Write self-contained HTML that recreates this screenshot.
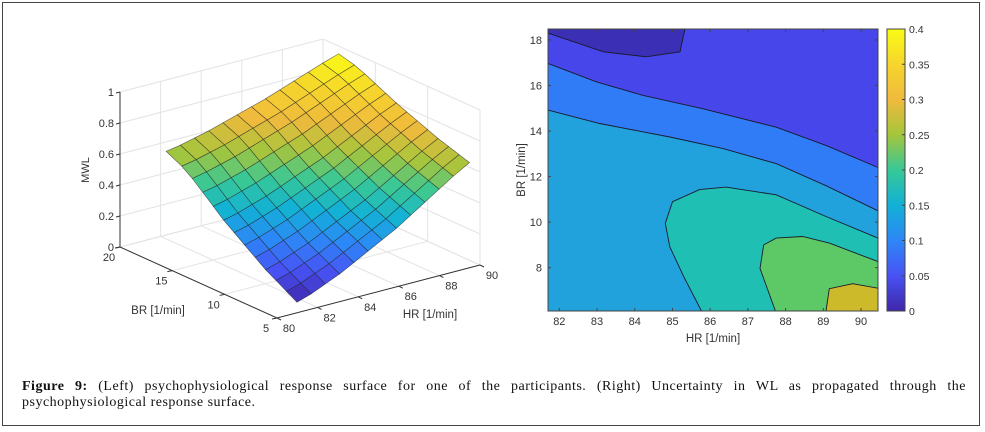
<!DOCTYPE html>
<html><head><meta charset="utf-8">
<style>
html,body{margin:0;padding:0;background:#fff;}
body{width:985px;height:432px;overflow:hidden;position:relative;font-family:"Liberation Sans",sans-serif;}
#frame{position:absolute;left:2px;top:2px;width:978px;height:424px;border:1px solid #444;box-sizing:border-box;}
#caption{position:absolute;left:22px;top:379px;width:944px;font-family:"Liberation Serif",serif;font-size:14px;letter-spacing:0.5px;line-height:16px;text-align:justify;color:#111;}
svg text{font-family:"Liberation Sans",sans-serif;fill:#333;}
</style></head>
<body>
<div id="frame"></div>
<svg id="chart" width="985" height="432" style="position:absolute;left:0;top:0">
  <g id="left"></g>
  <g id="right"></g>
</svg>
<div id="caption"><b>Figure 9:</b> (Left) psychophysiological response surface for one of the participants. (Right) Uncertainty in WL as propagated through the psychophysiological response surface.</div>
<script>
// ---------- Data: surface ----------
const surfHR = [81.5,82.2,82.9,83.6,84.3,85.0,85.7,86.4,87.1,87.8,88.5,89.2,90.0];
const surfBR = [6,7,8,9,10,11,12,13,14,15,16,17,18.5];
const hrEffect = [0.02,0.05,0.09,0.13,0.18,0.23,0.28,0.33,0.39,0.45,0.51,0.57,0.63];
const brEffect = [0,0.04,0.08,0.12,0.17,0.22,0.27,0.32,0.38,0.44,0.50,0.55,0.60];
const zTicks = [0,0.2,0.4,0.6,0.8,1];
const zTickLabels = ["0","0.2","0.4","0.6","0.8","1"];
const hrTicks = [80,82,84,86,88,90];
const brTicks = [5,10,15,20];
// ---------- Data: contour ----------
const cHRTicks = [82,83,84,85,86,87,88,89,90];
const cBRTicks = [8,10,12,14,16,18];
const cbTicks = [0,0.05,0.1,0.15,0.2,0.25,0.3,0.35,0.4];
const bandColors = ["#3b2fb6","#4646ea","#2f7cf6","#22a2dd","#1fbfb4","#5dc866","#cdba2b"];
const level0 = [[81.7,18.3],[83.17,17.48],[84.3,17.26],[85.2,17.48],[85.33,18.48],[81.7,18.48]];
const level1 = [[81.7,16.97],[82.98,16.16],[84.21,15.57],[85.8,14.98],[87.75,14.17],[89.07,13.37],[90.45,12.4]];
const level2 = [[81.7,14.92],[83.07,14.33],[84.93,13.74],[86.34,13.23],[87.75,12.57],[89.07,11.6],[90.45,10.5]];
const level3 = [[85.77,6.1],[85.3,7.6],[84.93,8.92],[84.81,9.95],[85.0,10.9],[85.72,11.43],[86.42,11.54],[87.75,11.2],[89.07,10.25],[90.45,9.3],[90.45,6.1]];
const level4 = [[87.73,6.1],[87.32,7.97],[87.42,9.0],[87.75,9.3],[88.45,9.37],[89.16,9.08],[90.45,8.27],[90.45,6.1]];
const level5 = [[89.07,6.1],[89.16,7.08],[89.78,7.3],[90.45,7.1],[90.45,6.1]];

const NS="http://www.w3.org/2000/svg";
function mk(tag,attrs,parent){const e=document.createElementNS(NS,tag);for(const k in attrs)e.setAttribute(k,attrs[k]);parent.appendChild(e);return e;}

const par=[[0,[62,38,168]],[0.125,[72,82,244]],[0.25,[45,135,247]],[0.375,[18,177,214]],[0.5,[55,200,151]],[0.625,[165,197,60]],[0.75,[240,186,61]],[0.875,[246,213,44]],[1,[249,251,21]]];
function parula(v){v=Math.max(0,Math.min(1,v));for(let i=1;i<par.length;i++){if(v<=par[i][0]){const a=par[i-1],b=par[i],t=(v-a[0])/(b[0]-a[0]);const c=a[1].map((x,j)=>Math.round(x+(b[1][j]-x)*t));return `rgb(${c[0]},${c[1]},${c[2]})`;}}return "rgb(249,251,21)";}

// ---------- Left 3D surface ----------
const L=document.getElementById('left');
function P(hr,br,z){return [277+(hr-80)/10*203+(br-5)/15*(-157), 318+(hr-80)/10*(-53)+(br-5)/15*(-71)+z*(-155)];}
function pts(a){return a.map(p=>p[0].toFixed(1)+","+p[1].toFixed(1)).join(" ");}
const gridG=mk('g',{},L);


zTicks.forEach(z=>{
  mk('polyline',{points:pts([P(80,20,z),P(90,20,z),P(90,5,z)]),fill:'none',stroke:'#e3e3e3','stroke-width':1},gridG);
});
hrTicks.forEach(h=>{
  mk('polyline',{points:pts([P(h,5,0),P(h,20,0),P(h,20,1)]),fill:'none',stroke:'#e3e3e3','stroke-width':1},gridG);
});
brTicks.forEach(b=>{
  mk('polyline',{points:pts([P(80,b,0),P(90,b,0),P(90,b,1)]),fill:'none',stroke:'#e3e3e3','stroke-width':1},gridG);
});
const ax=mk('g',{stroke:'#333','stroke-width':1,fill:'none'},L);


mk('polyline',{points:pts([P(80,20,1),P(80,20,0),P(80,5,0),P(90,5,0)])},ax);
function zval(i,j){const a=hrEffect[i],b=brEffect[j];return a+b-0.74*a*b;}
let zmin=1e9,zmax=-1e9;
for(let i=0;i<surfHR.length;i++)for(let j=0;j<surfBR.length;j++){const z=zval(i,j);zmin=Math.min(zmin,z);zmax=Math.max(zmax,z);}
const surf=mk('g',{stroke:'#222','stroke-width':0.6,'stroke-opacity':0.7},L);


const quads=[];
for(let i=0;i<surfHR.length-1;i++)for(let j=0;j<surfBR.length-1;j++){
  const c=[[i,j],[i+1,j],[i+1,j+1],[i,j+1]].map(([a,b])=>P(surfHR[a],surfBR[b],zval(a,b)));
  const zm=(zval(i,j)+zval(i+1,j)+zval(i+1,j+1)+zval(i,j+1))/4;
  const depth=(surfHR[i]-80)/10+(surfBR[j]-5)/15;
  quads.push({c,zm,depth});
}
quads.sort((a,b)=>b.depth-a.depth);
quads.forEach(q=>{
  const p=mk('polygon',{points:pts(q.c),fill:parula((q.zm-zmin)/(zmax-zmin))},surf);
  
  
});
const lab=mk('g',{'font-size':11},L);


zTicks.forEach((z,k)=>{const p=P(80,20,z);
  mk('line',{x1:p[0]-4,y1:p[1]+1,x2:p[0],y2:p[1],stroke:'#333'},lab);
  const t=mk('text',{x:p[0]-6,y:p[1]+4,'text-anchor':'end'},lab);t.textContent=zTickLabels[k];});
brTicks.forEach(b=>{const p=P(80,b,0);
  mk('line',{x1:p[0],y1:p[1],x2:p[0]-5,y2:p[1]+1,stroke:'#333'},lab);
  const t=mk('text',{x:p[0]-11,y:p[1]+14,'text-anchor':'middle'},lab);t.textContent=b;});
hrTicks.forEach(h=>{const p=P(h,5,0);
  mk('line',{x1:p[0],y1:p[1],x2:p[0]+4,y2:p[1]+2,stroke:'#333'},lab);
  const t=mk('text',{x:p[0]+12,y:p[1]+14,'text-anchor':'middle'},lab);t.textContent=h;});
const zl=mk('text',{x:0,y:0,'font-size':11,'text-anchor':'middle',transform:'translate(89,170) rotate(-90)'},L);zl.textContent='MWL';

const bl=mk('text',{x:158,y:314,'font-size':11.5,'text-anchor':'middle'},L);bl.textContent='BR [1/min]';

const hl=mk('text',{x:430,y:318,'font-size':11.5,'text-anchor':'middle'},L);hl.textContent='HR [1/min]';


// ---------- Right contour ----------
const R=document.getElementById('right');
const X0=548,X1=878,Y0=29,Y1=311,HRMIN=81.7,HRMAX=90.45,BRMIN=6.1,BRMAX=18.48;
function sx(h){return X0+(h-HRMIN)/(HRMAX-HRMIN)*(X1-X0);}
function sy(b){return Y1-(b-BRMIN)/(BRMAX-BRMIN)*(Y1-Y0);}
function cp(a){return a.map(p=>sx(p[0]).toFixed(1)+","+sy(p[1]).toFixed(1)).join(" ");}
const cg=mk('g',{},R);


mk('rect',{x:X0,y:Y0,width:X1-X0,height:Y1-Y0,fill:bandColors[1]},cg);
const regions=[
 {d:level0,col:bandColors[0],n:'band-0-0.05'},
 {d:level1.concat([[HRMAX,BRMIN],[HRMIN,BRMIN]]),col:bandColors[2],n:'band-0.1-0.15'},
 {d:level2.concat([[HRMAX,BRMIN],[HRMIN,BRMIN]]),col:bandColors[3],n:'band-0.15-0.2'},
 {d:level3,col:bandColors[4],n:'band-0.2-0.25'},
 {d:level4,col:bandColors[5],n:'band-0.25-0.3'},
 {d:level5,col:bandColors[6],n:'band-0.3-0.35'}];
regions.forEach(r=>{
  const p=mk('polygon',{points:cp(r.d),fill:r.col},cg);
  
  
});
const lines=[level0.slice(0,5),level1,level2,level3,level4,level5];
lines.forEach(l=>{
  const p=mk('polyline',{points:cp(l),fill:'none',stroke:'#1a1a2a','stroke-width':0.9},cg);
  
  
});
const frame=mk('rect',{x:X0,y:Y0,width:X1-X0,height:Y1-Y0,fill:'none',stroke:'#444','stroke-width':1},R);

const ct=mk('g',{'font-size':11},R);


cHRTicks.forEach(h=>{const x=sx(h);
  mk('line',{x1:x,y1:Y1,x2:x,y2:Y1-3,stroke:'#444'},ct);mk('line',{x1:x,y1:Y0,x2:x,y2:Y0+3,stroke:'#444'},ct);
  const t=mk('text',{x:x,y:Y1+14,'text-anchor':'middle'},ct);t.textContent=h;});
cBRTicks.forEach(b=>{const y=sy(b);
  mk('line',{x1:X0,y1:y,x2:X0+3,y2:y,stroke:'#444'},ct);mk('line',{x1:X1,y1:y,x2:X1-3,y2:y,stroke:'#444'},ct);
  const t=mk('text',{x:X0-6,y:y+4,'text-anchor':'end'},ct);t.textContent=b;});
const cx=mk('text',{x:713,y:342,'font-size':11.5,'text-anchor':'middle'},R);cx.textContent='HR [1/min]';

const cy=mk('text',{x:0,y:0,'font-size':11.5,'text-anchor':'middle',transform:'translate(525,170) rotate(-90)'},R);cy.textContent='BR [1/min]';

const CB0=887,CB1=905;
const defs=mk('defs',{},R);
const grad=mk('linearGradient',{id:'pg',x1:0,y1:1,x2:0,y2:0},defs);
par.forEach(s=>mk('stop',{offset:s[0],'stop-color':`rgb(${s[1].join(',')})`},grad));
const cb=mk('rect',{x:CB0,y:Y0,width:CB1-CB0,height:Y1-Y0,fill:'url(#pg)',stroke:'#444','stroke-width':1},R);

const cbl=mk('g',{'font-size':10.5},R);


cbTicks.forEach(v=>{const y=Y1-v/0.4*(Y1-Y0);
  mk('line',{x1:CB1,y1:y,x2:CB1-3,y2:y,stroke:'#444'},cbl);
  const t=mk('text',{x:CB1+4,y:y+4},cbl);t.textContent=String(v);});
</script>
</body></html>
